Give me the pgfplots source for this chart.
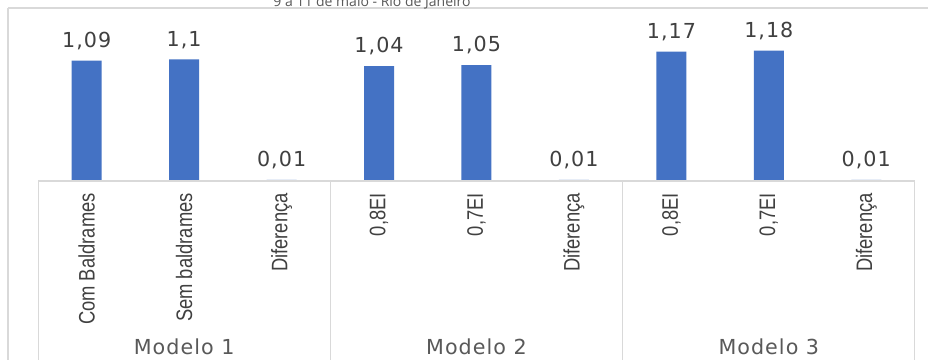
\documentclass[border=0pt]{standalone}
\usepackage{pgfplots}
\pgfplotsset{compat=1.18}
\usepackage{pgfplotstable}
\usepackage{fontspec}
\setmainfont{DejaVu Sans}
\newfontfamily\narrowfont[FakeStretch=0.82]{Liberation Sans}
\newfontfamily\valfont[LetterSpace=5]{DejaVu Sans}
\newfontfamily\hdrfont{Open Sans}
\definecolor{barblue}{HTML}{4472C4}
\definecolor{txtgray}{HTML}{404040}
\definecolor{lblgray}{HTML}{595959}
\definecolor{linegray}{HTML}{D9D9D9}

\pgfplotstableread{
x y label
0 1.09 {1,09}
1 1.10 {1,1}
2 0.01 {0,01}
3 1.04 {1,04}
4 1.05 {1,05}
5 0.01 {0,01}
6 1.17 {1,17}
7 1.18 {1,18}
8 0.01 {0,01}
}\datatable

\begin{document}
\begin{tikzpicture}
\clip (0,0) rectangle (696pt,270pt);
\fill[white] (0,0) rectangle (696pt,270pt);
\draw[linegray, line width=1.5pt] (6pt,264pt) -- (700pt,264pt);
\draw[linegray, line width=1.2pt] (6pt,264pt) -- (6pt,-5pt);
\node[anchor=base, text=lblgray, font=\hdrfont\fontsize{10.5pt}{12pt}\selectfont] at (279pt,265.2pt) {9 a 11 de maio - Rio de Janeiro};
\begin{axis}[
  at={(28.5pt,134.25pt)}, anchor=south west,
  scale only axis, width=657.75pt, height=129.75pt,
  xmin=-0.5, xmax=8.5, ymin=0, ymax=1.566,
  ybar, bar width=22.5pt,
  axis on top,
  axis x line*=bottom, axis y line=none,
  x axis line style={draw=linegray, line width=1pt},
  xtick=data, major tick length=0pt,
  xticklabels={Com Baldrames, Sem baldrames, Diferença, {0,8EI}, {0,7EI}, Diferença, {0,8EI}, {0,7EI}, Diferença},
  xticklabel style={rotate=90, anchor=east, inner sep=0pt, font=\narrowfont\fontsize{16.8pt}{18pt}\selectfont, text=txtgray},
  xticklabel shift=9pt,
  clip=false,
]
\addplot[fill=barblue, draw=none,
  nodes near coords, point meta=explicit symbolic,
  nodes near coords style={anchor=base, yshift=10pt, inner sep=0pt, font=\valfont\fontsize{15.5pt}{17pt}\selectfont, text=txtgray}]
  table[x=x, y=y, meta=label]{\datatable};
\draw[linegray, line width=0.75pt] (axis cs:-0.5,0) -- ++(0pt,-150pt);
\draw[linegray, line width=0.75pt] (axis cs:2.5,0) -- ++(0pt,-150pt);
\draw[linegray, line width=0.75pt] (axis cs:5.5,0) -- ++(0pt,-150pt);
\draw[linegray, line width=0.75pt] (axis cs:8.5,0) -- ++(0pt,-150pt);
\node[anchor=base, yshift=-129.75pt, font=\valfont\fontsize{15.5pt}{17pt}\selectfont, text=lblgray] at (axis cs:1,0) {Modelo 1};
\node[anchor=base, yshift=-129.75pt, font=\valfont\fontsize{15.5pt}{17pt}\selectfont, text=lblgray] at (axis cs:4,0) {Modelo 2};
\node[anchor=base, yshift=-129.75pt, font=\valfont\fontsize{15.5pt}{17pt}\selectfont, text=lblgray] at (axis cs:7,0) {Modelo 3};
\end{axis}
\end{tikzpicture}
\end{document}
